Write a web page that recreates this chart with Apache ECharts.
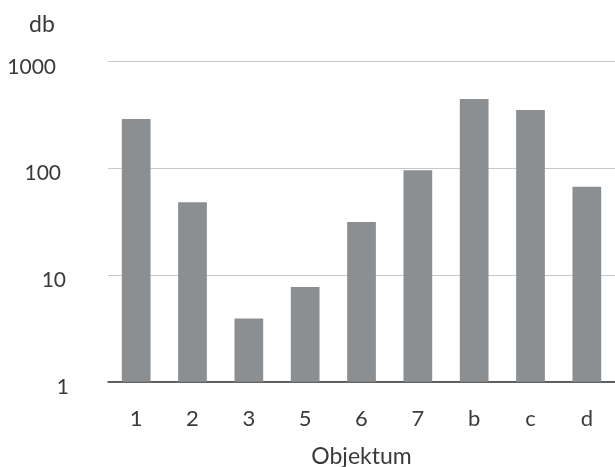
<!DOCTYPE html>
<html>
<head>
<meta charset="utf-8">
<script src="https://cdn.jsdelivr.net/npm/echarts@6/dist/echarts.min.js"></script>
<style>
html,body{margin:0;padding:0;background:#fff;}
#c{width:615px;height:467px;}
</style>
</head>
<body>
<div id="c"></div>
<script>
var categories = ['1', '2', '3', '5', '6', '7', 'b', 'c', 'd'];
var values = [290, 48, 3.9, 7.7, 31.4, 96, 446, 352, 67];
var yTicks = [1, 10, 100, 1000];
var yName = 'db';
var xName = 'Objektum';

var FONT = 'Lato';
var TXT = '#3a3a3a';
var chart = echarts.init(document.getElementById('c'), null, {renderer: 'canvas'});
var padMap = {1: 0, 10: 3, 100: 8, 1000: 13};
var lblSize = 21;
function richStyle(r) {
  return {color: TXT, fontFamily: FONT, fontSize: lblSize, padding: [11, r, 0, 0]};
}
chart.setOption({
  animation: false,
  backgroundColor: '#ffffff',
  grid: {left: 108, right: 0, top: 61.5, bottom: 85.3, containLabel: false, outerBoundsMode: 'none'},
  xAxis: {
    type: 'category',
    data: categories,
    axisLine: {show: true, lineStyle: {color: '#333333', width: 1.5}},
    axisTick: {show: false},
    axisLabel: {color: TXT, fontFamily: FONT, fontSize: 22, margin: 26},
    name: xName,
    nameLocation: 'middle',
    nameGap: 63,
    nameTextStyle: {color: TXT, fontFamily: FONT, fontSize: 23}
  },
  yAxis: {
    type: 'log',
    logBase: 10,
    min: yTicks[0],
    max: yTicks[yTicks.length - 1],
    axisLine: {show: false},
    axisTick: {show: false},
    splitLine: {show: true, lineStyle: {color: '#c8c8c8', width: 1.2}},
    axisLabel: {
      color: TXT, fontFamily: FONT, fontSize: lblSize, margin: 39,
      formatter: function (v) { return '{p' + padMap[v] + '|' + v + '}'; },
      rich: {p0: richStyle(0), p3: richStyle(3), p8: richStyle(8), p13: richStyle(13)}
    },
    name: yName,
    nameLocation: 'end',
    nameGap: 25,
    nameTextStyle: {color: TXT, fontFamily: FONT, fontSize: 23, align: 'center', padding: [0, 0, 0, -132]}
  },
  series: [{
    type: 'bar',
    data: values,
    barWidth: '51%',
    itemStyle: {color: '#8c8f92'}
  }]
});
</script>
</body>
</html>
